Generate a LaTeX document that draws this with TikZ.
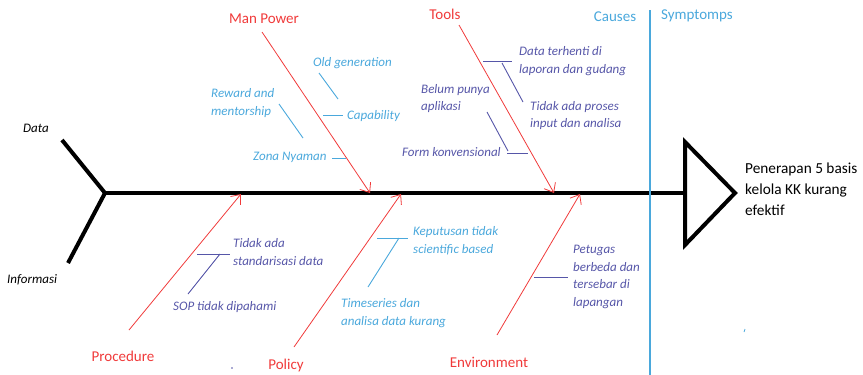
\documentclass[tikz,border=0pt]{standalone}
\usepackage{fontspec}
\setmainfont{Carlito}
\usetikzlibrary{arrows.meta}
\definecolor{fbred}{HTML}{F03A3A}
\definecolor{fblight}{HTML}{4AA8DC}
\definecolor{fbdark}{HTML}{5656A8}
\begin{document}
\begin{tikzpicture}[x=1pt,y=-1pt,
  spine/.style={line width=4pt, black},
  bone/.style={fbred, line width=0.8pt, -{Straight Barb[length=8pt,width=13pt]}},
  subl/.style={fblight, line width=0.9pt},
  subd/.style={fbdark, line width=0.9pt},
  catlabel/.style={fbred, font=\fontsize{15}{17}\selectfont, inner sep=0pt},
  itl/.style={font=\fontsize{13}{17.5}\selectfont\itshape, inner sep=0pt, anchor=west, align=left},
  hdr/.style={fblight, font=\fontsize{15}{17}\selectfont, inner sep=0pt},
]
\useasboundingbox (0,0) rectangle (863,375);

% ---- spine, tail, head
\coordinate (head) at (105,193);
\coordinate (tailtop) at (62,140);
\coordinate (tailbot) at (68,263);
\coordinate (triW) at (685,193);
\coordinate (triA) at (685,142);
\coordinate (triT) at (735,193);
\coordinate (triB) at (685,245);
\draw[spine] (tailtop) -- (head) -- (tailbot);
\draw[spine] (head) -- (triW);
\draw[spine, line join=miter] (triA) -- (triT) -- (triB) -- cycle;

% ---- divider
\coordinate (divT) at (650,10);
\coordinate (divB) at (650,375);
\draw[fblight, line width=1.5pt] (divT) -- (divB);
\node[hdr] (causes) at (615,17) {Causes};
\node[hdr] (sympt) at (697,16) {Symptomps};

% ---- tail labels
\node[itl, black] (data) at (23,128) {Data};
\node[itl, black] (info) at (7,280) {Informasi};

% ---- effect
\node[font=\fontsize{15.3}{21}\selectfont, inner sep=0pt, anchor=west, align=left] (effect) at (745,189)
  {Penerapan 5 basis\\kelola KK kurang\\efektif};

% ---- main bones
\node[catlabel] (manpower) at (264,19) {Man Power};
\node[catlabel] (tools) at (445,14) {Tools};
\node[catlabel] (procedure) at (123,356) {Procedure};
\node[catlabel] (policy) at (286,365) {Policy};
\node[catlabel] (environment) at (489,362) {Environment};

\coordinate (mpS) at (262,32);  \coordinate (mpE) at (370,193);
\coordinate (toS) at (459,25);  \coordinate (toE) at (554,193);
\coordinate (prS) at (129,330); \coordinate (prE) at (241,194);
\coordinate (poS) at (294,347); \coordinate (poE) at (401,194);
\coordinate (enS) at (497,335); \coordinate (enE) at (580,194);
\draw[bone] (mpS) -- (mpE);
\draw[bone] (toS) -- (toE);
\draw[bone] (prS) -- (prE);
\draw[bone] (poS) -- (poE);
\draw[bone] (enS) -- (enE);

% ---- Man Power causes
\node[itl, fblight] (oldgen) at (313,63) {Old generation};
\node[itl, fblight] (capab) at (347,116) {Capability};
\node[itl, fblight] (reward) at (211,103) {Reward and\\mentorship};
\node[itl, fblight] (zona) at (253,157) {Zona Nyaman};
\coordinate (cap1) at (323,115); \coordinate (cap2) at (343,115);
\coordinate (og1) at (319,73);   \coordinate (og2) at (338,99);
\coordinate (rw1) at (279,104);  \coordinate (rw2) at (303,138);
\coordinate (zn1) at (332,158);  \coordinate (zn2) at (346,158);
\draw[subl] (cap1) -- (cap2);
\draw[subl] (og1) -- (og2);
\draw[subl] (rw1) -- (rw2);
\draw[subl] (zn1) -- (zn2);

% ---- Tools causes
\node[itl, fbdark] (dataterh) at (519,61) {Data terhenti di\\laporan dan gudang};
\node[itl, fbdark] (tidakproses) at (530,115.5) {Tidak ada proses\\input dan analisa};
\node[itl, fbdark] (belum) at (421,98.5) {Belum punya\\aplikasi};
\node[itl, fbdark] (formk) at (402,152) {Form konvensional};
\coordinate (dt1) at (483,61);  \coordinate (dt2) at (512,61);
\coordinate (tp1) at (502,63);  \coordinate (tp2) at (523,102);
\coordinate (bp1) at (487,112); \coordinate (bp2) at (508,151);
\coordinate (fk1) at (507,153); \coordinate (fk2) at (528,153);
\draw[subd] (dt1) -- (dt2);
\draw[subd] (tp1) -- (tp2);
\draw[subd] (bp1) -- (bp2);
\draw[subd] (fk1) -- (fk2);

% ---- Procedure causes
\node[itl, fbdark] (tidakada) at (233,252) {Tidak ada\\standarisasi data};
\node[itl, fbdark] (sop) at (173,307) {SOP tidak dipahami};
\coordinate (pr1) at (197,254); \coordinate (pr2) at (230,254);
\coordinate (pr3) at (220,254); \coordinate (pr4) at (188,294);
\draw[subd] (pr1) -- (pr2);
\draw[subd] (pr3) -- (pr4);

% ---- Policy causes
\node[itl, fblight] (keput) at (413,240.5) {Keputusan tidak\\scientific based};
\node[itl, fblight] (times) at (341,313) {Timeseries dan\\analisa data kurang};
\coordinate (po1) at (377,238); \coordinate (po2) at (408,238);
\coordinate (po3) at (399,238); \coordinate (po4) at (368,287);
\draw[subl] (po1) -- (po2);
\draw[subl] (po3) -- (po4);

% ---- Environment causes
\node[itl, fbdark] (petugas) at (573,277) {Petugas\\berbeda dan\\tersebar di\\lapangan};
\coordinate (en1) at (534,277); \coordinate (en2) at (568,277);
\draw[subd] (en1) -- (en2);

% ---- stray marks
\fill[fbdark] (232,368) circle (0.9);
\draw[fblight, line width=0.8pt] (744,332) -- (745,329);
\end{tikzpicture}
\end{document}
